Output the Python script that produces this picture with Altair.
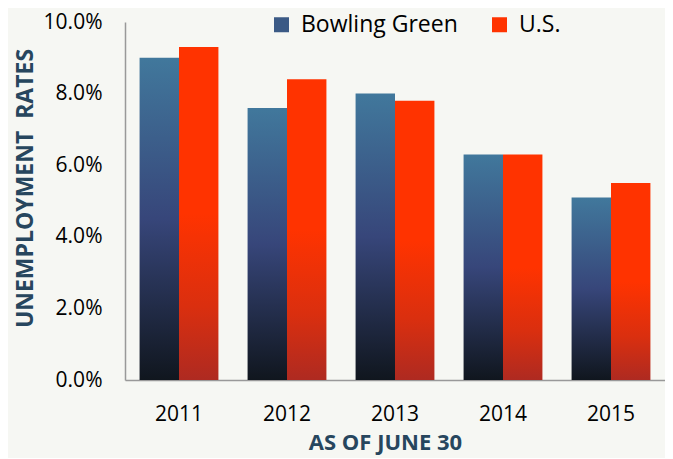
import altair as alt
import pandas as pd

# ---- data ----
years = ["2011", "2012", "2013", "2014", "2015"]
series = ["Bowling Green", "U.S."]
bowling_green = [9.0, 7.6, 8.0, 6.3, 5.1]   # percent
us_rates = [9.3, 8.4, 7.8, 6.3, 5.5]        # percent
y_ticks = [0.0, 0.02, 0.04, 0.06, 0.08, 0.10]

rows = []
for i, yr in enumerate(years):
    rows.append({"year": yr, "series": series[0], "rate": bowling_green[i] / 100})
    rows.append({"year": yr, "series": series[1], "rate": us_rates[i] / 100})
df = pd.DataFrame(rows)

FONT = "Open Sans"
TITLE_COLOR = "#27465E"
BG_COLOR = "#F6F7F3"

bg_grad = alt.Gradient(
    gradient="linear", x1=0, y1=0, x2=0, y2=1,
    stops=[
        alt.GradientStop(offset=0, color="#41789C"),
        alt.GradientStop(offset=0.5, color="#37467A"),
        alt.GradientStop(offset=1, color="#10161E"),
    ],
)
us_grad = alt.Gradient(
    gradient="linear", x1=0, y1=0, x2=0, y2=1,
    stops=[
        alt.GradientStop(offset=0, color="#FF3300"),
        alt.GradientStop(offset=0.5, color="#FF3300"),
        alt.GradientStop(offset=0.78, color="#DA2F0F"),
        alt.GradientStop(offset=1, color="#AE2A21"),
    ],
)

x_enc = alt.X(
    "year:N", sort=years,
    scale=alt.Scale(paddingInner=0.27, paddingOuter=0.135),
    axis=alt.Axis(
        title="AS OF JUNE 30", labelAngle=0, ticks=False, labelPadding=23,
        labelFont=FONT, labelFontSize=21, labelColor="#000000",
        titleFont=FONT, titleFontSize=22, titleFontWeight="bold", titleColor=TITLE_COLOR,
        titleX=260, titleY=69, titleBaseline="alphabetic",
        domainColor="#999999", domainWidth=1.5,
    ),
)
xoff_enc = alt.XOffset(
    "series:N", sort=series,
    scale=alt.Scale(domain=series, paddingInner=0, paddingOuter=0),
)
y_enc = alt.Y(
    "rate:Q",
    scale=alt.Scale(domain=[0, 0.1], nice=False),
    axis=alt.Axis(
        values=y_ticks, format=".1%", grid=False, ticks=False, labelPadding=23,
        labelFont=FONT, labelFontSize=21, labelColor="#000000",
        title="UNEMPLOYMENT\u00a0 RATES",
        titleFont=FONT, titleFontSize=23, titleFontWeight="bold", titleColor=TITLE_COLOR,
        titleX=-93, titleY=166, titleBaseline="alphabetic",
        domainColor="#999999", domainWidth=1.5,
    ),
)

legend_layer = alt.Chart(df).mark_bar(opacity=0).encode(
    x=x_enc, xOffset=xoff_enc, y=y_enc,
    color=alt.Color(
        "series:N",
        scale=alt.Scale(domain=series, range=["#3B5A85", "#FF3300"]),
        legend=alt.Legend(
            title=None, orient="none", legendX=145, legendY=-9,
            direction="horizontal", symbolType="square", symbolSize=225,
            symbolStrokeWidth=0, symbolOpacity=1,
            labelFont=FONT, labelFontSize=23, labelColor="#000000",
            labelOffset=8, columnPadding=30,
        ),
    ),
)

bg_layer = alt.Chart(df).transform_filter(
    alt.datum.series == series[0]
).mark_bar(fill=bg_grad).encode(x=x_enc, xOffset=xoff_enc, y=y_enc)

us_layer = alt.Chart(df).transform_filter(
    alt.datum.series == series[1]
).mark_bar(fill=us_grad).encode(x=x_enc, xOffset=xoff_enc, y=y_enc)

chart = alt.layer(legend_layer, bg_layer, us_layer).properties(
    width=540, height=358,
    autosize=alt.AutoSizeParams(type="none"),
    padding={"left": 117, "top": 14, "right": 0, "bottom": 78},
    background=BG_COLOR,
).configure_view(stroke=None)

chart.save("out.html", embed_options={"renderer": "svg", "actions": False})
